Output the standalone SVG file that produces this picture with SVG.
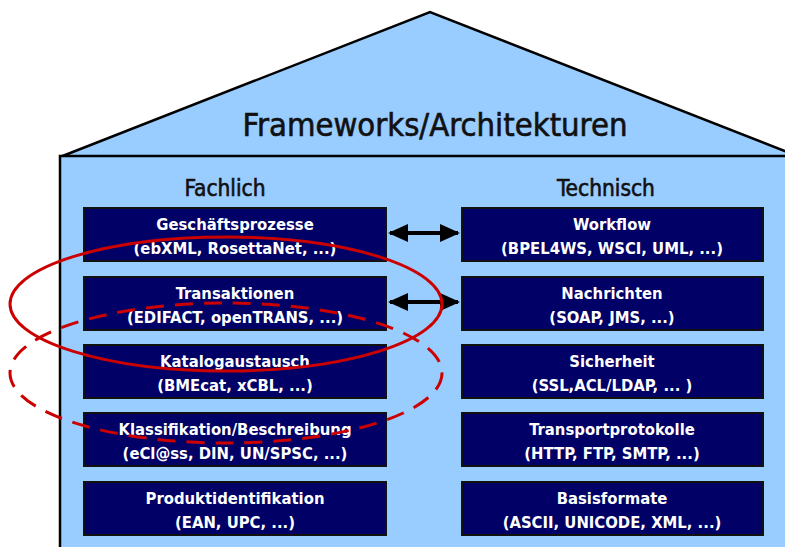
<svg xmlns="http://www.w3.org/2000/svg" width="785" height="547" viewBox="0 0 785 547">
<defs>
<style>
.bg{fill:#ffffff}
.house{fill:#99ccff;stroke:#000;stroke-width:2.5}
.box{fill:#000066;stroke:#111;stroke-width:2}
.bt{fill:#fff;font-family:"DejaVu Sans Condensed","DejaVu Sans",sans-serif;font-weight:bold;font-size:16.5px;text-anchor:middle}
.hd{fill:#111;stroke:#111;stroke-width:0.6;font-family:"DejaVu Sans Condensed","DejaVu Sans",sans-serif;text-anchor:middle}
.arr{stroke:#000;stroke-width:4;fill:none;marker-start:url(#ah);marker-end:url(#ah)}
.red{fill:none;stroke:#cc0000;stroke-width:3}
</style>
<marker id="ah" viewBox="0 0 10 10" refX="9" refY="5" markerWidth="5" markerHeight="5" markerUnits="strokeWidth" orient="auto-start-reverse">
<path d="M0,0.5 L10,5 L0,9.5 z" fill="#000"/>
</marker>
</defs>
<rect class="bg" x="0" y="0" width="785" height="547"/>
<g id="house">
<path class="house" d="M60,157 L430,12 L800,157 Z"/>
<rect class="house" x="60" y="156" width="740" height="400"/>
<text class="hd" x="435" y="136" font-size="32.5">Frameworks/Architekturen</text>
<text class="hd" x="225" y="196" font-size="22.5">Fachlich</text>
<text class="hd" x="606" y="196" font-size="22.5">Technisch</text>
</g>
<g id="n-geschaeft"><rect class="box" x="84" y="208" width="302" height="53"/><text class="bt" x="235" y="230">Geschäftsprozesse</text><text class="bt" x="235" y="254">(ebXML, RosettaNet, ...)</text></g>
<g id="n-transaktionen"><rect class="box" x="84" y="277" width="302" height="53"/><text class="bt" x="235" y="299">Transaktionen</text><text class="bt" x="235" y="323">(EDIFACT, openTRANS, ...)</text></g>
<g id="n-katalog"><rect class="box" x="84" y="345" width="302" height="53"/><text class="bt" x="235" y="367">Katalogaustausch</text><text class="bt" x="235" y="391">(BMEcat, xCBL, ...)</text></g>
<g id="n-klassifikation"><rect class="box" x="84" y="413" width="302" height="53"/><text class="bt" x="235" y="435">Klassifikation/Beschreibung</text><text class="bt" x="235" y="459">(eCl@ss, DIN, UN/SPSC, ...)</text></g>
<g id="n-produkt"><rect class="box" x="84" y="482" width="302" height="53"/><text class="bt" x="235" y="504">Produktidentifikation</text><text class="bt" x="235" y="528">(EAN, UPC, ...)</text></g>
<g id="n-workflow"><rect class="box" x="462" y="208" width="301" height="53"/><text class="bt" x="612" y="230">Workflow</text><text class="bt" x="612" y="254">(BPEL4WS, WSCI, UML, ...)</text></g>
<g id="n-nachrichten"><rect class="box" x="462" y="277" width="301" height="53"/><text class="bt" x="612" y="299">Nachrichten</text><text class="bt" x="612" y="323">(SOAP, JMS, ...)</text></g>
<g id="n-sicherheit"><rect class="box" x="462" y="345" width="301" height="53"/><text class="bt" x="612" y="367">Sicherheit</text><text class="bt" x="612" y="391">(SSL,ACL/LDAP, ... )</text></g>
<g id="n-transport"><rect class="box" x="462" y="413" width="301" height="53"/><text class="bt" x="612" y="435">Transportprotokolle</text><text class="bt" x="612" y="459">(HTTP, FTP, SMTP, ...)</text></g>
<g id="n-basis"><rect class="box" x="462" y="482" width="301" height="53"/><text class="bt" x="612" y="504">Basisformate</text><text class="bt" x="612" y="528">(ASCII, UNICODE, XML, ...)</text></g>
<g id="connectors">
<line class="arr" x1="390" y1="233" x2="458" y2="233"/>
<line class="arr" x1="390" y1="302" x2="458" y2="302"/>
</g>
<g id="highlights">
<ellipse class="red" cx="226" cy="304" rx="216" ry="67"/>
<ellipse class="red" cx="226" cy="373" rx="216" ry="70" stroke-dasharray="18 11"/>
</g>
</svg>
